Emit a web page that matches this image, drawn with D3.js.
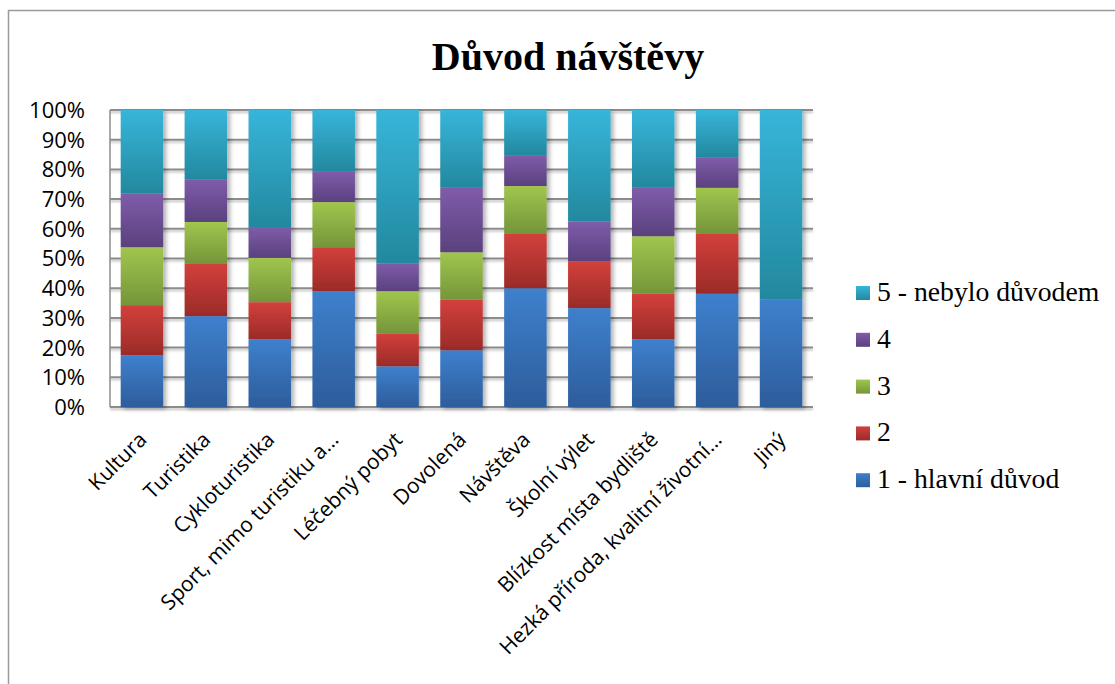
<!DOCTYPE html>
<html>
<head>
<meta charset="utf-8">
<script src="https://cdn.jsdelivr.net/npm/d3@7"></script>
<style>
  body { margin: 0; background: #fff; }
</style>
</head>
<body>
<div id="chart"></div>
<script>
// categories and shares (in %)
const categories = ['Kultura', 'Turistika', 'Cykloturistika', 'Sport, mimo turistiku a…', 'Léčebný pobyt',
    'Dovolená', 'Návštěva', 'Školní výlet', 'Blízkost místa bydliště', 'Hezká příroda, kvalitní životní…', 'Jiný'];
const seriesNames = ['1 - hlavní důvod', '2', '3', '4', '5 - nebylo důvodem'];
const s1 = [17.4, 30.6, 22.8, 39.0, 13.7, 19.1, 40.0, 33.3, 22.8, 38.1, 36.1];
const s2 = [16.9, 17.8, 12.5, 14.8, 11.1, 17.0, 18.5, 15.8, 15.3, 20.4, 0];
const s3 = [19.5, 13.9, 14.9, 15.2, 14.2, 16.0, 15.9, 0, 19.4, 15.3, 0];
const s4 = [18.0, 14.2, 10.4, 10.2, 9.4, 21.7, 10.4, 13.3, 16.3, 10.1, 0];
const s5 = [28.2, 23.5, 39.4, 20.8, 51.6, 26.2, 15.2, 37.6, 26.2, 16.1, 63.9];
const yTicks = [0, 0.1, 0.2, 0.3, 0.4, 0.5, 0.6, 0.7, 0.8, 0.9, 1];

const width = 1115;
const height = 684;
const margin = { top: 110, right: 302, bottom: 277, left: 110 };
const innerW = width - margin.left - margin.right;
const innerH = height - margin.top - margin.bottom;

// gradient stops for each series (top, bottom)
const colors = [
    ['#3e80cd', '#2d5d9b'],
    ['#d3403c', '#9a2b28'],
    ['#a0c64e', '#75953a'],
    ['#7f5caa', '#5a417e'],
    ['#37b5da', '#23889e']
];

const table = categories.map((c, i) => {
    const sum = s1[i] + s2[i] + s3[i] + s4[i] + s5[i];
    return { cat: c, s0: s1[i] / sum, s1: s2[i] / sum, s2: s3[i] / sum, s3: s4[i] / sum, s4: s5[i] / sum };
});
const keys = ['s0', 's1', 's2', 's3', 's4'];
const stacked = d3.stack().keys(keys)(table);

const svg = d3.select('#chart').append('svg')
    .attr('width', width)
    .attr('height', height);

const defs = svg.append('defs');
colors.forEach((c, i) => {
    const g = defs.append('linearGradient')
        .attr('id', 'grad' + i)
        .attr('x1', 0).attr('y1', 0).attr('x2', 0).attr('y2', 1);
    g.append('stop').attr('offset', '0%').attr('stop-color', c[0]);
    g.append('stop').attr('offset', '100%').attr('stop-color', c[1]);
});
const shadow = defs.append('filter').attr('id', 'shadow')
    .attr('x', '-20%').attr('y', '-20%').attr('width', '150%').attr('height', '150%');
shadow.append('feDropShadow')
    .attr('dx', 3).attr('dy', 2).attr('stdDeviation', 2)
    .attr('flood-color', '#000').attr('flood-opacity', 0.3);
const lineShadow = defs.append('filter').attr('id', 'lineShadow')
    .attr('x', '-5%').attr('y', '-200%').attr('width', '110%').attr('height', '500%');
lineShadow.append('feDropShadow')
    .attr('dx', 0).attr('dy', 2).attr('stdDeviation', 1)
    .attr('flood-color', '#000').attr('flood-opacity', 0.25);

// outer chart border (cut off at the right and bottom like the source)
svg.append('rect')
    .attr('x', 8.5).attr('y', 10.5)
    .attr('width', width).attr('height', height)
    .attr('fill', 'none')
    .attr('stroke', '#9a9a9a')
    .attr('stroke-width', 1.5);

// title
svg.append('text')
    .attr('x', 568).attr('y', 70)
    .attr('text-anchor', 'middle')
    .style('font-family', '"Liberation Serif", "Times New Roman", serif')
    .style('font-weight', 'bold')
    .style('font-size', '40px')
    .text('Důvod návštěvy');

const g = svg.append('g')
    .attr('transform', 'translate(' + margin.left + ',' + margin.top + ')');

const x = d3.scaleBand()
    .domain(categories)
    .range([0, innerW])
    .paddingInner(0.335)
    .paddingOuter(0.1675);

const y = d3.scaleLinear()
    .domain([0, 1])
    .range([innerH, 0]);

// gridlines
g.append('g')
    .attr('filter', 'url(#lineShadow)')
    .selectAll('line')
    .data(yTicks)
    .enter().append('line')
    .attr('x1', 0).attr('x2', innerW)
    .attr('y1', d => y(d)).attr('y2', d => y(d))
    .attr('stroke', '#8c8c8c')
    .attr('stroke-width', 2);

// left axis line
g.append('line')
    .attr('x1', 0).attr('x2', 0)
    .attr('y1', 0).attr('y2', innerH)
    .attr('stroke', '#8c8c8c')
    .attr('stroke-width', 1.5);

// bars
const layers = g.append('g').attr('filter', 'url(#shadow)')
    .selectAll('g.layer')
    .data(stacked)
    .enter().append('g')
    .attr('class', 'layer')
    .attr('fill', (d, i) => 'url(#grad' + i + ')');

layers.selectAll('rect')
    .data(d => d.filter(p => p[1] - p[0] > 0))
    .enter().append('rect')
    .attr('x', d => x(d.data.cat))
    .attr('y', d => y(d[1]))
    .attr('width', x.bandwidth())
    .attr('height', d => y(d[0]) - y(d[1]));

// y axis labels
g.append('g')
    .selectAll('text')
    .data(yTicks)
    .enter().append('text')
    .attr('x', -25)
    .attr('y', d => y(d))
    .attr('dy', '0.36em')
    .attr('text-anchor', 'end')
    .style('font-family', '"Open Sans", sans-serif')
    .style('font-size', '22px')
    .text(d => d3.format('.0%')(d));

// category labels
g.append('g')
    .selectAll('text')
    .data(categories)
    .enter().append('text')
    .attr('transform', d => 'translate(' + (x(d) + x.bandwidth() / 2 + 6) + ',' + (innerH + 34) + ') rotate(-45)')
    .attr('text-anchor', 'end')
    .style('font-family', '"Open Sans", sans-serif')
    .style('font-size', '21px')
    .text(d => d);

// legend, top entry = last series
const legend = svg.append('g')
    .selectAll('g')
    .data(seriesNames.map((n, i) => ({ name: n, i: i })).reverse())
    .enter().append('g')
    .attr('transform', (d, k) => 'translate(856,' + (301 + k * 46.8) + ')');

legend.append('rect')
    .attr('x', 0).attr('y', -15)
    .attr('width', 14).attr('height', 14)
    .attr('fill', d => 'url(#grad' + d.i + ')');

legend.append('text')
    .attr('x', 21).attr('y', 0)
    .style('font-family', '"Liberation Serif", "Times New Roman", serif')
    .style('font-size', '27.7px')
    .text(d => d.name);
</script>
</body>
</html>
